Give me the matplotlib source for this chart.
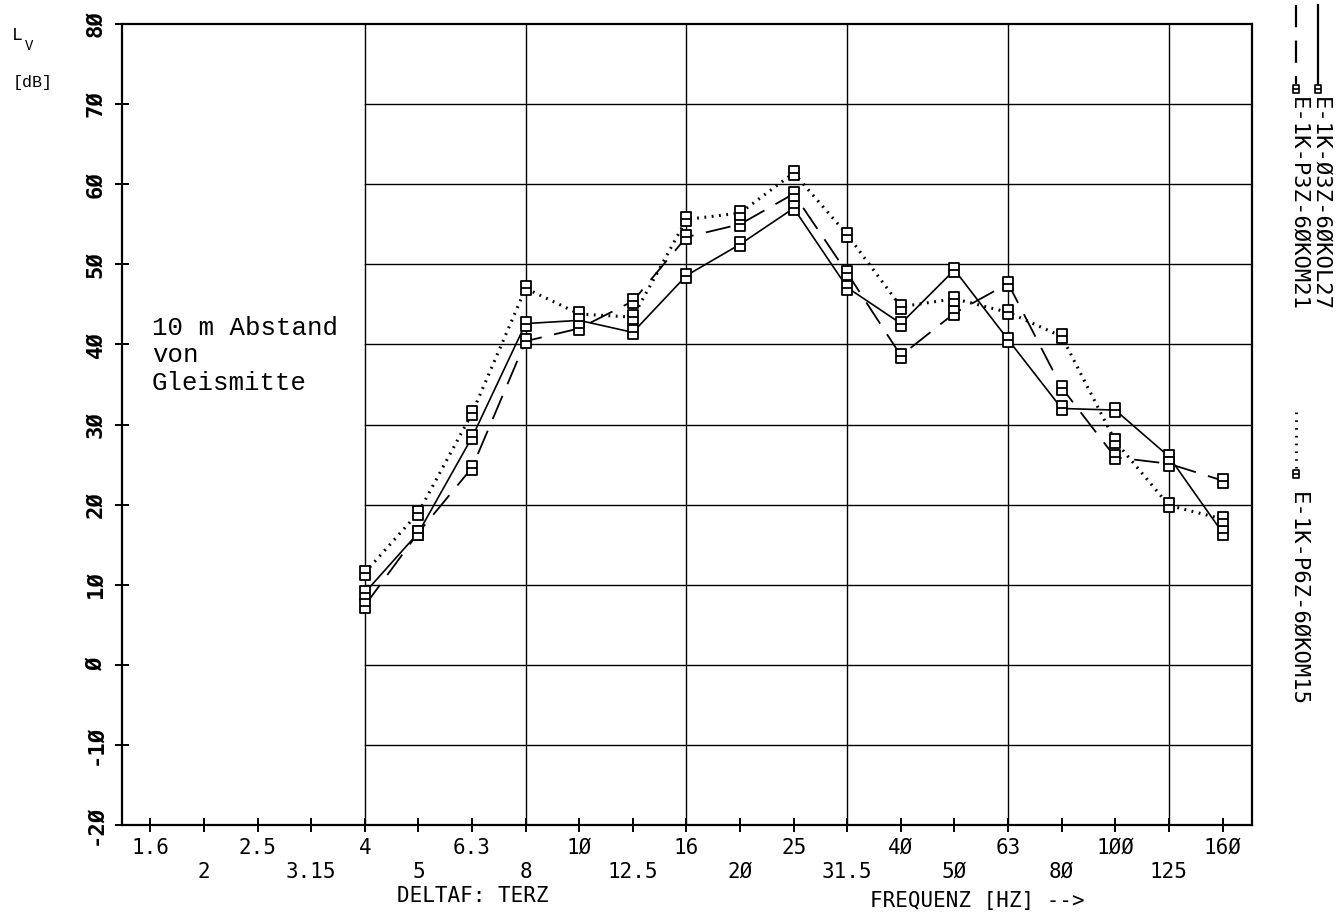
import numpy as np
import matplotlib
matplotlib.use('Agg')
import matplotlib.pyplot as plt
from matplotlib.path import Path
from matplotlib.lines import Line2D

# third-octave band centre frequencies (Hz)
bands = ['1.6', '2', '2.5', '3.15', '4', '5', '6.3', '8', '1Ø', '12.5', '16', '2Ø',
         '25', '31.5', '4Ø', '5Ø', '63', '8Ø', '1ØØ', '125', '16Ø']
first_band = 4  # data starts at 4 Hz

# levels L_v in dB, 4 Hz ... 160 Hz
kol27 = [9.0, 16.5, 28.4, 42.6, 43.0, 41.5, 48.6, 52.5, 57.0, 47.1, 42.6, 49.3, 40.6, 32.0, 31.8, 26.0, 16.5]
kom21 = [7.4, 16.5, 24.6, 40.4, 42.0, 45.4, 53.4, 55.0, 58.8, 48.9, 38.6, 43.9, 47.6, 34.6, 25.9, 25.1, 23.0]
kom15 = [11.5, 19.0, 31.4, 47.0, 43.8, 43.4, 55.6, 56.4, 61.4, 53.7, 44.7, 45.7, 44.0, 41.0, 27.9, 19.9, 18.2]

yticks = list(range(-20, 81, 10))
ytick_labels = [str(v).replace('0', 'Ø') for v in yticks]

# plotter style marker: small box with a bar through the middle
verts = [(-0.36, -0.5), (0.36, -0.5), (0.36, 0.5), (-0.36, 0.5), (0, 0), (-0.36, 0.0), (0.36, 0.0)]
codes = [Path.MOVETO, Path.LINETO, Path.LINETO, Path.LINETO, Path.CLOSEPOLY, Path.MOVETO, Path.LINETO]
box = Path(verts, codes)

mono = 'DejaVu Sans Mono'
courier = 'Liberation Mono'

fig = plt.figure(figsize=(13.43, 9.16), dpi=100)
ax = fig.add_axes([122/1343, 1 - 825/916, 1130/1343, 801/916])

x = np.arange(first_band, first_band + len(kol27))
mk = dict(marker=box, markersize=10, markerfacecolor='white', markeredgecolor='black', markeredgewidth=1.3)
ax.plot(x, kol27, color='black', lw=1.2, ls='-', **mk)
ax.plot(x, kom21, color='black', lw=1.3, ls=(0, (14, 7)), **mk)
ax.plot(x, kom15, color='black', lw=2.2, ls=(0, (0.6, 1.8)), **mk)

ax.set_xlim(-0.53, 20.55)
ax.set_ylim(-20, 80)

# grid: only to the right of 4 Hz
for v in range(-10, 80, 10):
    ax.plot([first_band, 20.55], [v, v], color='black', lw=1.0, zorder=0)
for i in range(first_band, len(bands), 3):
    ax.axvline(i, color='black', lw=1.0, zorder=0)

for s in ax.spines.values():
    s.set_linewidth(1.6)

ax.set_yticks(yticks)
ax.set_yticklabels(ytick_labels, rotation=90, va='center', family=mono, fontsize=16, fontweight='bold')
ax.tick_params(axis='y', direction='inout', length=10, width=1.4, pad=7)

ax.set_xticks(range(len(bands)))
ax.set_xticklabels([])
ax.tick_params(axis='x', direction='inout', length=10, width=1.4)
for i, lab in enumerate(bands):
    yoff = -23 if i % 2 == 0 else -47
    ax.annotate(lab, (i, -20), xytext=(0, yoff / 1.389), textcoords='offset points',
                ha='center', va='center', family=mono, fontsize=15)

fig.text(473/1343, 1 - 896/916, 'DELTAF: TERZ', ha='center', va='center', family=mono, fontsize=15)
fig.text(977/1343, 1 - 901/916, 'FREQUENZ [HZ] -->', ha='center', va='center', family=mono, fontsize=15)

ax.text(0.03, 43.6, '10 m Abstand\nvon\nGleismitte', ha='left', va='top',
        family=courier, fontsize=18.5, linespacing=1.2)

fig.text(12/1343, 1 - 36/916, 'L', ha='left', va='center', family=courier, fontsize=13)
fig.text(25/1343, 1 - 46/916, 'V', ha='left', va='center', family=courier, fontsize=10)
fig.text(13/1343, 1 - 82/916, '[dB]', ha='left', va='center', family=courier, fontsize=12)

# legend, written sideways on the right
def fx(px):
    return px / 1343

def fy(py):
    return 1 - py / 916

fig.add_artist(Line2D([fx(1318), fx(1318)], [fy(5), fy(84)], color='black', lw=1.6))
fig.add_artist(Line2D([fx(1318)], [fy(89)], color='black', marker=box, markersize=6,
                      markerfacecolor='white', markeredgewidth=1.2))
fig.text(fx(1320), fy(97), 'E-1K-Ø3Z-6ØKOL27', rotation=270, ha='center', va='top', family=mono, fontsize=16)

fig.add_artist(Line2D([fx(1296), fx(1296)], [fy(5), fy(84)], color='black', lw=1.6, ls=(0, (10, 6))))
fig.add_artist(Line2D([fx(1296)], [fy(89)], color='black', marker=box, markersize=6,
                      markerfacecolor='white', markeredgewidth=1.2))
fig.text(fx(1298), fy(97), 'E-1K-P3Z-6ØKOM21', rotation=270, ha='center', va='top', family=mono, fontsize=16)
fig.add_artist(Line2D([fx(1296), fx(1296)], [fy(412), fy(468)], color='black', lw=2.0, ls=(0, (0.6, 2.2))))
fig.add_artist(Line2D([fx(1296)], [fy(474)], color='black', marker=box, markersize=6,
                      markerfacecolor='white', markeredgewidth=1.2))
fig.text(fx(1298), fy(492), 'E-1K-P6Z-6ØKOM15', rotation=270, ha='center', va='top', family=mono, fontsize=16)

fig.savefig('out.png', dpi=100, facecolor='white')
